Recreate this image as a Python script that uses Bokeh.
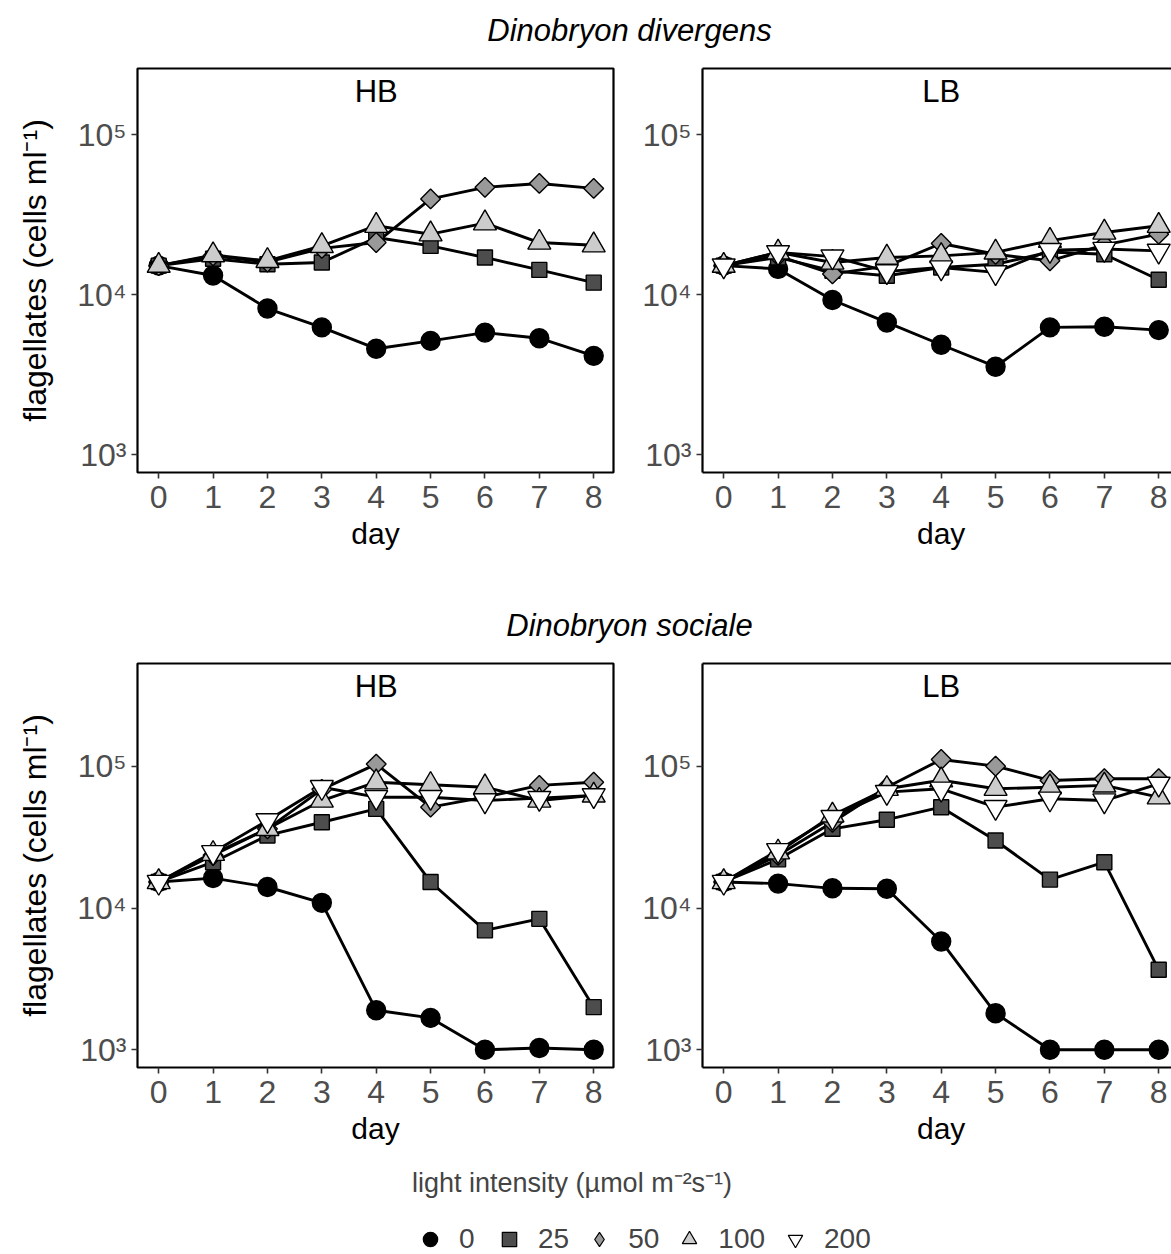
import math
from bokeh.plotting import figure
from bokeh.models import (Range1d, FixedTicker, CustomJSTickFormatter, LinearAxis,
                          Label, Legend, LegendItem)
from bokeh.layouts import column, row
from bokeh.embed import file_html
from bokeh.resources import INLINE

FONT = "Liberation Sans"

# ---------------- data ----------------
days = [0, 1, 2, 3, 4, 5, 6, 7, 8]
light_levels = ["0", "25", "50", "100", "200"]
species = ["Dinobryon divergens", "Dinobryon sociale"]
treatments = ["HB", "LB"]
y_tick_values = [1e3, 1e4, 1e5]

# Dinobryon divergens, HB
div_HB_0 = [15200, 13200, 8200, 6250, 4600, 5150, 5800, 5350, 4150]
div_HB_25 = [15200, 16800, 15500, 15900, 22800, 20200, 17100, 14300, 11900]
div_HB_50 = [15200, 17500, 16000, 19500, 21200, 39700, 46900, 49600, 46200]
div_HB_100 = [15200, 17700, 16300, 20200, 27000, 23900, 28000, 21200, 20400]
div_HB_200 = None

# Dinobryon divergens, LB
div_LB_0 = [15200, 14500, 9270, 6710, 4870, 3550, 6250, 6310, 6010]
div_LB_25 = [15200, 17100, 14100, 13150, 14800, 15500, 18500, 17900, 12400]
div_LB_50 = [15200, 17500, 13500, 15100, 20900, 17900, 16300, 20500, 23900]
div_LB_100 = [15200, 18400, 15900, 17100, 17500, 18400, 21800, 24500, 27000]
div_LB_200 = [15200, 18400, 17300, 14000, 14800, 13800, 19000, 19300, 18800]

# Dinobryon sociale, HB
soc_HB_0 = [15300, 16300, 14100, 10900, 1900, 1680, 1000, 1030, 1000]
soc_HB_25 = [15300, 21100, 32600, 40400, 50200, 15300, 6970, 8400, 2000]
soc_HB_50 = [15300, 23600, 36300, 69000, 104000, 51600, 60700, 73500, 77400]
soc_HB_100 = [15300, 24200, 36300, 57500, 77400, 74300, 71400, 57500, 62500]
soc_HB_200 = [15300, 24800, 41600, 71400, 60700, 60700, 57500, 59800, 62500]

# Dinobryon sociale, LB
soc_LB_0 = [15300, 14900, 13800, 13700, 5820, 1810, 1000, 1000, 1000]
soc_LB_25 = [15300, 22100, 36300, 42100, 51600, 30000, 15900, 21100, 3670]
soc_LB_50 = [15300, 23600, 40400, 71400, 112000, 100500, 79700, 81900, 81900]
soc_LB_100 = [15300, 24800, 45200, 69600, 80000, 69600, 71400, 73500, 60700]
soc_LB_200 = [15300, 25600, 43900, 65900, 69600, 51600, 59200, 57500, 75400]

panels = {
    ("Dinobryon divergens", "HB"): [div_HB_0, div_HB_25, div_HB_50, div_HB_100, div_HB_200],
    ("Dinobryon divergens", "LB"): [div_LB_0, div_LB_25, div_LB_50, div_LB_100, div_LB_200],
    ("Dinobryon sociale", "HB"): [soc_HB_0, soc_HB_25, soc_HB_50, soc_HB_100, soc_HB_200],
    ("Dinobryon sociale", "LB"): [soc_LB_0, soc_LB_25, soc_LB_50, soc_LB_100, soc_LB_200],
}

# ---------------- styles ----------------
STYLE = {
    "0": dict(marker="circle", fill_color="#000000", size=19, angle=0.0),
    "25": dict(marker="square", fill_color="#4D4D4D", size=15, angle=0.0),
    "50": dict(marker="square", fill_color="#999999", size=14, angle=math.pi / 4),
    "100": dict(marker="triangle", fill_color="#CCCCCC", size=23, angle=0.0),
    "200": dict(marker="inverted_triangle", fill_color="#FFFFFF", size=23, angle=0.0),
}
LEGEND_MARKER = {"0": "circle", "25": "square", "50": "diamond",
                 "100": "triangle", "200": "inverted_triangle"}

Y_RANGES = {
    "Dinobryon divergens": (10 ** 2.889, 10 ** 5.414),
    "Dinobryon sociale": (10 ** 2.875, 10 ** 5.727),
}

TICK_FMT = CustomJSTickFormatter(code="""
const e = Math.round(Math.log10(tick));
const s = {3: '\u00b3', 4: '\u2074', 5: '\u2075'};
return '10' + s[e];
""")


def style_axes(p):
    for ax in (p.xaxis[0], p.yaxis[0]):
        ax.major_tick_out = 6
        ax.major_tick_in = 0
        ax.minor_tick_line_color = None
        ax.major_tick_line_color = "#333333"
        ax.major_tick_line_width = 1.6
        ax.major_label_text_font = FONT
        ax.major_label_text_font_size = "32px"
        ax.major_label_text_color = "#4D4D4D"
        ax.axis_label_text_font = FONT
        ax.axis_label_text_font_size = "30px"
        ax.axis_label_text_font_style = "normal"
        ax.axis_label_text_color = "#000000"


def make_panel(sp, tr, is_left, height, mbt, mbb):
    frame_w = 476 if is_left else 469
    mbl = 137 if is_left else 72
    mbr = 17 if is_left else 0
    width = mbl + frame_w + mbr
    x0 = -0.39
    x1 = x0 + frame_w / 54.375
    y0, y1 = Y_RANGES[sp]
    p = figure(width=width, height=height, output_backend="svg", toolbar_location=None,
               x_range=Range1d(x0, x1), y_range=Range1d(y0, y1), y_axis_type="log",
               min_border_left=mbl, min_border_right=mbr,
               min_border_top=mbt, min_border_bottom=mbb)
    p.xgrid.visible = False
    p.ygrid.visible = False
    p.background_fill_color = "white"
    p.border_fill_color = "white"

    p.xaxis.ticker = FixedTicker(ticks=days)
    p.yaxis.ticker = FixedTicker(ticks=y_tick_values)
    p.yaxis.formatter = TICK_FMT
    style_axes(p)
    p.xaxis.axis_label = "day" if is_left else "\u00a0day"
    p.xaxis.major_label_standoff = 7
    p.xaxis.axis_label_standoff = 6
    p.yaxis.major_label_standoff = 5
    if is_left:
        p.yaxis.axis_label = "flagellates (cells ml\u207b\u00b9)"
        p.yaxis.axis_label_text_font_size = "32px"
        p.yaxis.axis_label_standoff = 21
        p.outline_line_color = "black"
        p.outline_line_width = 2.2
        p.xaxis.axis_line_color = None
        p.yaxis.axis_line_color = None
    else:
        p.outline_line_color = None
        for ax in (p.xaxis[0], p.yaxis[0]):
            ax.axis_line_color = "black"
            ax.axis_line_width = 2.2
        top = LinearAxis(ticker=FixedTicker(ticks=[]), axis_line_color="black",
                         axis_line_width=2.2, major_tick_line_color=None,
                         minor_tick_line_color=None, major_label_text_font_size="0px")
        p.add_layout(top, "above")

    series = panels[(sp, tr)]
    for lvl, vals in zip(light_levels, series):
        if vals is None:
            continue
        p.line(days, vals, line_color="black", line_width=2.9)
    for lvl, vals in zip(light_levels, series):
        if vals is None:
            continue
        st = STYLE[lvl]
        p.scatter(days, vals, marker=st["marker"], size=st["size"], angle=st["angle"],
                  fill_color=st["fill_color"], line_color="black", line_width=1.4)

    p.add_layout(Label(x=4, y=381, x_units="data", y_units="screen", text=tr,
                       text_align="center", text_baseline="alphabetic",
                       text_font=FONT, text_font_size="31px", text_color="black"))
    return p


def title_fig(text, height, baseline_from_bottom):
    p = figure(width=1171, height=height, output_backend="svg", toolbar_location=None,
               x_axis_type=None, y_axis_type=None, min_border=0,
               x_range=Range1d(0, 1), y_range=Range1d(0, 1))
    p.outline_line_color = None
    p.xgrid.visible = False
    p.ygrid.visible = False
    p.add_layout(Label(x=629, y=baseline_from_bottom, x_units="screen", y_units="screen",
                       text=text, text_align="center", text_baseline="alphabetic",
                       text_font=FONT, text_font_size="31px", text_font_style="italic",
                       text_color="black"))
    return p


tA = title_fig(species[0], 50, 20)
TL = make_panel(species[0], "HB", True, 540, 18, 118)
TR = make_panel(species[0], "LB", False, 540, 18, 118)
tB = title_fig(species[1], 55, 20)
BL = make_panel(species[1], "HB", True, 515, 18, 93)
BR = make_panel(species[1], "LB", False, 515, 18, 93)

# legend figure: proxy renderers carry real series values but lie outside the
# (0..1) ranges of this strip, so only their legend glyphs are visible
lg = figure(width=1171, height=94, output_backend="svg", toolbar_location=None,
            x_axis_type=None, y_axis_type=None, min_border=0,
            x_range=Range1d(0, 1), y_range=Range1d(0, 1))
lg.outline_line_color = None
lg.xgrid.visible = False
lg.ygrid.visible = False
items = []
for lvl, vals in zip(light_levels, panels[("Dinobryon sociale", "HB")]):
    st = STYLE[lvl]
    r = lg.scatter(x=days, y=vals, marker=LEGEND_MARKER[lvl], size=10,
                   fill_color=st["fill_color"], line_color="black", line_width=1.2)
    items.append(LegendItem(label=lvl, renderers=[r]))
legend = Legend(items=items, orientation="horizontal", location=(412, -3),
                title="light intensity (\u00b5mol m\u207b\u00b2s\u207b\u00b9)",
                title_text_font=FONT, title_text_font_size="27px",
                title_text_font_style="normal", title_standoff=21,
                label_text_font=FONT, label_text_font_size="28px",
                glyph_width=36, glyph_height=36, label_standoff=11, spacing=12,
                padding=0, margin=0, border_line_color=None, background_fill_alpha=0)
lg.add_layout(legend)

layout = column(tA, row(TL, TR), tB, row(BL, BR), lg)

open("out.html", "w").write(file_html(layout, INLINE))
